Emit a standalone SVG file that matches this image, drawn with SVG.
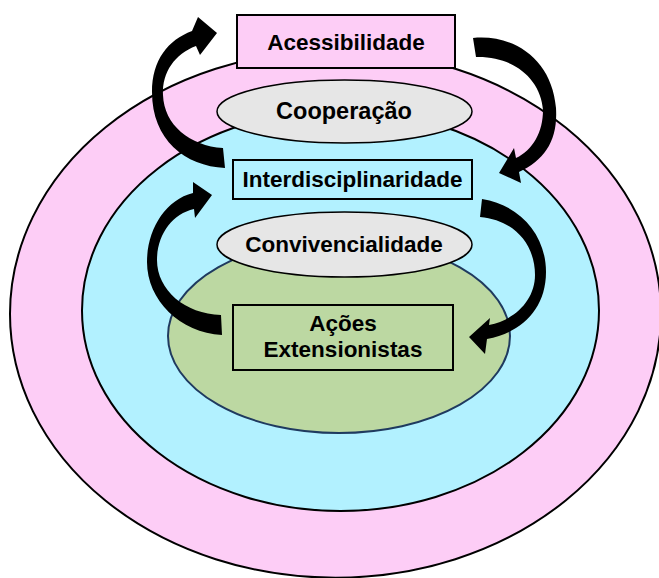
<svg xmlns="http://www.w3.org/2000/svg" width="659" height="578" viewBox="0 0 659 578">
<style>
.lbl{font-family:"Liberation Sans",Arial,sans-serif;font-weight:bold;font-size:22.5px;fill:#000;text-anchor:middle}
.ring{stroke:#000;stroke-width:2}
.box{stroke:#000;stroke-width:2}
.oval{fill:#e6e6e6;stroke:#000;stroke-width:1.5}
.arrow{fill:#000;stroke:none}
</style>
<rect width="659" height="578" fill="#fff"/>
<g id="ring-outer"><ellipse class="ring" cx="335.5" cy="314" rx="325.5" ry="263.7" fill="#fdcdf6"/></g>
<g id="ring-middle"><ellipse class="ring" cx="340.5" cy="310.5" rx="258.5" ry="200.5" fill="#b2f1ff"/></g>
<g id="ring-inner"><ellipse cx="339" cy="336" rx="171" ry="97" fill="#bcd8a2" stroke="#1f3a5f" stroke-width="2"/></g>
<g id="acessibilidade">
<rect class="box" x="237" y="15" width="218" height="53" fill="#fdcdf6"/>
<text class="lbl" x="346" y="50">Acessibilidade</text>
</g>
<g id="cooperacao">
<ellipse class="oval" cx="344.5" cy="111.5" rx="127.5" ry="31.5"/>
<text class="lbl" x="344" y="119" style="font-size:23.5px">Cooperação</text>
</g>
<g id="interdisciplinaridade">
<rect class="box" x="233" y="160" width="239" height="39" fill="#b2f1ff"/>
<text class="lbl" x="352.5" y="187">Interdisciplinaridade</text>
</g>
<g id="convivencialidade">
<ellipse class="oval" cx="344.5" cy="244.5" rx="127.5" ry="32.5"/>
<text class="lbl" x="344" y="252">Convivencialidade</text>
</g>
<g id="acoes">
<rect class="box" x="233" y="305" width="220" height="65" fill="#bcd8a2"/>
<text class="lbl" x="343" y="331">Ações</text>
<text class="lbl" x="343" y="357">Extensionistas</text>
</g>
<g id="connectors">
<path class="arrow" d="M223,148 L225,168 C185,166 152,140 152,92 C152,60 168,40 192,31 L198,17 L217,33 L200,55 L196,46 C175,54 162,72 163,95 C164,125 190,146 223,148 Z"/>
<path class="arrow" d="M473,38 C515,34 552,60 556,108 C558,140 545,160 519,172 L521,183 L499,173 L514,148 L516,158 C533,150 543,132 543,110 C541,80 515,56 476,57 Z"/>
<path class="arrow" d="M222,335 C180,333 147,300 147,262 C147,230 165,200 193,193 L193,182 L212,195 L195,218 L194,209 C172,214 157,235 157,260 C157,290 185,314 221,315 Z"/>
<path class="arrow" d="M482,199 C520,205 546,235 546,272 C546,310 520,333 487,339 L485,354 L469,337 L490,318 L489,325 C515,320 535,300 535,275 C535,245 515,220 480,217 Z"/>
</g>
</svg>
